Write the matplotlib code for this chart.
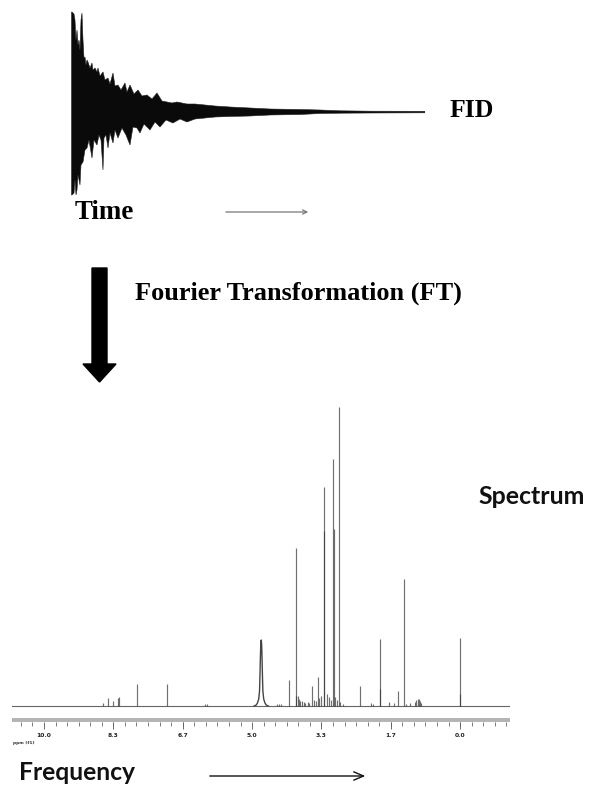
import numpy as np
import matplotlib
matplotlib.use('Agg')
import matplotlib.pyplot as plt
from matplotlib.patches import FancyArrow, FancyArrowPatch
from matplotlib.transforms import IdentityTransform
from matplotlib.ticker import FixedLocator, FixedFormatter

# ---------------- data ----------------
# FID (free induction decay) envelope: upper and lower jagged edges
fid_upper_t = [0.5, 1, 3, 4, 5, 6, 7, 8, 9, 10, 11, 12, 13, 14, 15, 16, 17, 19, 21, 22, 24, 26, 27,
               29, 32, 34, 37, 39, 42, 44, 47, 50, 54, 56, 59, 63, 67, 71, 76, 81, 86, 91, 96,
               101, 106, 111, 116, 124, 134, 144, 159, 179, 199, 229, 249, 269, 300, 354]
fid_upper_a = [100, 100, 98, 92, 72, 82, 67, 72, 62, 92, 99, 72, 54, 55, 47, 52, 50, 44, 49, 42, 44, 40, 44,
               36, 40, 32, 34, 28, 39, 26, 27, 22, 29, 20, 27, 18, 22, 16, 17, 13, 19, 11, 10,
               9, 10, 9, 8, 8, 7, 6, 5, 4, 3, 2.5, 2, 1.2, 0.8, 0.7]
fid_lower_t = [0.5, 1, 3, 4, 5, 6, 7, 9, 10, 12, 14, 16, 18, 21, 23, 26, 28, 30, 32, 33, 35, 37, 39,
               42, 44, 47, 51, 55, 59, 62, 66, 69, 73, 79, 84, 89, 95, 102, 109, 116, 124, 134,
               144, 159, 179, 199, 229, 249, 269, 300, 354]
fid_lower_a = [-83, -83, -81, -68, -83, -78, -63, -73, -53, -50, -38, -36, -28, -46, -28, -33, -23, -28, -58, -26, -23, -36, -21,
               -31, -18, -26, -16, -23, -33, -15, -16, -21, -12, -18, -10, -15, -8, -11, -7, -10, -7, -6,
               -5, -4.5, -4, -3, -2.5, -1.5, -1.2, -1.0, -0.8]

# 1H NMR spectrum: sharp lines (chemical shift in ppm, intensity)
peak_ppm = [8.58, 8.46, 8.34, 8.22, 8.19, 7.77, 7.05, 6.12, 6.08,
            4.40, 4.35, 4.30, 4.11, 3.94, 3.935, 3.90, 3.87, 3.84, 3.80, 3.76, 3.72, 3.66, 3.62,
            3.56, 3.52, 3.47, 3.42, 3.38, 3.35, 3.27, 3.262, 3.20, 3.15, 3.10,
            3.05, 3.042, 3.00, 2.96, 2.91, 2.88, 2.82, 2.40, 2.15, 2.10,
            1.92, 1.918, 1.70, 1.60, 1.49, 1.35, 1.30, 1.21,
            1.08, 1.05, 1.02, 0.99, 0.96, 0.93, 0.0, 0.005]
peak_height = [3, 8, 5, 8, 9, 22, 22, 2, 2,
               2, 2, 2, 26, 158, 10, 10, 7, 5, 5, 4, 3, 4, 3,
               20, 6, 5, 29, 8, 10, 219, 175, 12, 9, 6,
               247, 177, 9, 6, 299, 4, 2, 20, 3, 2,
               67, 17, 4, 3, 15, 127, 2, 3,
               4, 6, 7, 7, 5, 3, 68, 12]
# broad exchangeable (water) signal
broad_ppm = [4.95, 4.90, 4.87, 4.84, 4.82, 4.81, 4.80, 4.79, 4.78,
             4.77, 4.76, 4.75, 4.74, 4.72, 4.69, 4.66, 4.61]
broad_height = [0, 1, 3, 7, 15, 30, 48, 62, 66,
                62, 48, 30, 15, 7, 3, 1, 0]

# ppm scale
tick_ppm = [10.0, 8.333, 6.667, 5.0, 3.333, 1.667, 0.0]
tick_labels = ['10.0', '8.3', '6.7', '5.0', '3.3', '1.7', '0.0']

# ---------------- figure ----------------
W, H = 592, 787
fig = plt.figure(figsize=(W / 100, H / 100), dpi=100)
fig.patch.set_facecolor('white')


def rect(x0, y0, x1, y1):
    """pixel box (top-left origin) -> figure fraction rect"""
    return [x0 / W, 1 - y1 / H, (x1 - x0) / W, (y1 - y0) / H]


# ---- FID panel ----
ax_f = fig.add_axes(rect(71, 7, 425, 202))
poly_t = list(fid_upper_t) + list(fid_lower_t)[::-1]
poly_a = list(fid_upper_a) + list(fid_lower_a)[::-1]
ax_f.fill(poly_t, poly_a, color='#0a0a0a', lw=0.4, ec='#222222')
ax_f.set_xlim(0, 354)
ax_f.set_ylim(-90, 105)
ax_f.axis('off')

# ---- spectrum panel ----
ax_s = fig.add_axes(rect(12, 406, 510, 708))
line_col = '#333333'
ax_s.axhline(0, color='#666666', lw=0.8)
ax_s.vlines(peak_ppm, 0, peak_height, colors=line_col, lw=0.85, alpha=0.7)
ax_s.plot(broad_ppm, broad_height, color='#444444', lw=1.0)
ax_s.set_xlim(10.77, -1.2)
ax_s.set_ylim(-2, 300)
ax_s.axis('off')

# ---- ppm ruler ----
ax_r = fig.add_axes(rect(12, 718, 510, 722))
ax_r.set_facecolor('#b4b4b4')
for sp in ax_r.spines.values():
    sp.set_visible(False)
ax_r.set_xlim(10.77, -1.2)
ax_r.set_yticks([])
ax_r.xaxis.set_major_locator(FixedLocator(tick_ppm))
ax_r.xaxis.set_major_formatter(FixedFormatter(tick_labels))
ax_r.xaxis.set_minor_locator(FixedLocator([10 - k * 1.6667 / 6 for k in range(-2, 41)]))
ax_r.tick_params(axis='x', which='major', length=5, width=0.6, color='#555555',
                 pad=3, labelsize=4.3, labelcolor='#222222')
ax_r.tick_params(axis='x', which='minor', length=3, width=0.6, color='#666666')
for lab in ax_r.get_xticklabels():
    lab.set_fontweight('bold')
fig.text(13 / W, 1 - 744 / H, 'ppm (f1)', fontsize=3.2, fontweight='bold', color='#333333')

# ---- texts ----
serif = ['Liberation Serif', 'DejaVu Serif']
sans = ['Lato', 'DejaVu Sans']
t_fid = fig.text(450 / W, 1 - 117 / H, 'FID', family=serif, fontweight='bold', fontsize=18, va='baseline')
t_time = fig.text(75 / W, 1 - 219 / H, 'Time', family=serif, fontweight='bold', fontsize=18, va='baseline')
t_ft = fig.text(135 / W, 1 - 300 / H, 'Fourier Transformation (FT)', family=serif, fontweight='bold',
                fontsize=18, va='baseline')
t_sp = fig.text(478 / W, 1 - 504 / H, 'Spectrum', family=sans, fontweight='bold', fontsize=18,
                va='baseline', color='#111111')
t_fr = fig.text(19 / W, 1 - 780 / H, 'Frequency', family=sans, fontweight='bold', fontsize=18,
                va='baseline', color='#111111')

fig.canvas.draw()
renderer = fig.canvas.get_renderer()
for t, target in [(t_fid, 47), (t_time, 62), (t_ft, 343), (t_sp, 112), (t_fr, 122)]:
    w = t.get_window_extent(renderer).width
    t.set_fontsize(t.get_fontsize() * target * 0.95 / w)

# ---- arrows ----
fig.add_artist(FancyArrow(99.5, H - 268, 0, -(382 - 268), width=15, head_width=33, head_length=18,
                          length_includes_head=True, color='black', transform=IdentityTransform()))
fig.add_artist(FancyArrowPatch(
    (223 / W, 1 - 212 / H), (311 / W, 1 - 212 / H), transform=fig.transFigure,
    arrowstyle='->,head_length=3,head_width=1.5', color='#777777', lw=0.9))
fig.add_artist(FancyArrowPatch(
    (207 / W, 1 - 776 / H), (368 / W, 1 - 776 / H), transform=fig.transFigure,
    arrowstyle='->,head_length=7,head_width=3', color='#111111', lw=1.0))

fig.savefig('out.png', dpi=100, facecolor='white')
